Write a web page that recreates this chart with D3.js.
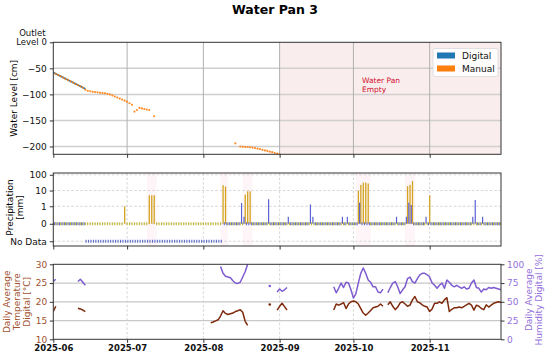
<!DOCTYPE html>
<html><head><meta charset="utf-8">
<script src="https://cdn.jsdelivr.net/npm/d3@7"></script>
<style>body{margin:0;background:#fff} svg{display:block;font-family:"DejaVu Sans",sans-serif}</style>
</head><body><svg id="c" width="550" height="357"></svg>
<script>
// ---------------- data ----------------
const chartTitle = "Water Pan 3";
const dateRange = ["2025-06-01", "2025-11-30"];
const monthTicks = ["2025-06-01","2025-07-01","2025-08-01","2025-09-01","2025-10-01","2025-11-01"];
const emptyPeriod = ["2025-09-01", "2025-11-30"];
const emptyLabel = ["Water Pan", "Empty"];
const seriesNames = ["Digital", "Manual"];

const levelTicks = [0, -50, -100, -150, -200];
const levelDomain = [-215, 0];
const levelDigital = [
  ["2025-06-01", [-58,-60.5,-62.8,-65.3,-67.5,-70.1,-72.4,-74.9,-77.2,-79.6,-82.1,-84.4,-86.9,-89]]
];
const levelManual = [
  ["2025-06-01", [-58,-60.6,-63,-65.4,-67.8,-70.3,-72.6,-75,-77.4,-79.8,-82.2,-84.6,-87,-91,-93,-94,-95,-95.5,-96,-97,
                  -97.5,-98,-99,-100,-102,-104,-106,-108,-110,-112,-114,-117,-120,-133,-130,-126,-127,-128,-129,-130]],
  ["2025-07-12", [-142]],
  ["2025-08-14", [-194]],
  ["2025-08-16", [-200,-200.5,-201,-201,-201.5,-202,-203,-204,-205,-206.5,-207.5,-208.5,-210,-211,-212.5,-213.5,-215]]
];

const precipTicks = [100, 10, 1, 0, -1];
const precipTickLabels = ["100", "10", "1", "0", "No Data"];
const precipDomain = [-2, 130];
const precipManual = [
  ["2025-06-30", 1.0],
  ["2025-07-10", 5], ["2025-07-11", 5], ["2025-07-12", 5],
  ["2025-08-09", 22], ["2025-08-10", 18],
  ["2025-08-18", 5.5], ["2025-08-19", 9], ["2025-08-20", 9],
  ["2025-10-03", 10], ["2025-10-04", 23], ["2025-10-05", 32], ["2025-10-06", 32], ["2025-10-07", 28],
  ["2025-10-23", 19], ["2025-10-24", 23], ["2025-10-25", 40],
  ["2025-11-01", 5]
];
const precipDigital = [
  ["2025-08-16", 1.6], ["2025-08-17", 0.4], ["2025-08-27", 2.8], ["2025-09-04", 0.4],
  ["2025-09-13", 1.3], ["2025-09-14", 0.4], ["2025-09-26", 0.4], ["2025-09-28", 0.4],
  ["2025-10-03", 1.7], ["2025-10-18", 0.4], ["2025-10-22", 0.4], ["2025-10-23", 1.7],
  ["2025-10-24", 1.2], ["2025-10-30", 0.4], ["2025-11-18", 0.4], ["2025-11-19", 2.5], ["2025-11-22", 0.4]
];
const manualCoverage = [["2025-06-01", "2025-11-30"]];
const digitalCoverage = [["2025-06-01", "2025-06-13"], ["2025-08-09", "2025-11-30"]];
const rainSpans = [["2025-07-09","2025-07-13"],["2025-08-08","2025-08-11"],["2025-08-17","2025-08-21"],
                   ["2025-10-02","2025-10-08"],["2025-10-22","2025-10-26"]];

const tempTicks = [10, 15, 20, 25, 30];
const humTicks = [0, 25, 50, 75, 100];
const tempSegments = [
  ["2025-06-01", [17.4, 18.8]],
  ["2025-06-11", [18.3, 18.1, 17.8, 17.4]],
  ["2025-08-04", [14.4,14.6,14.9,15.2,16.2,17.6,16.9,16.6,16.8,17.0,17.4,17.6,17.9,17.2,14.8,13.7]],
  ["2025-08-28", [19.3]],
  ["2025-08-31", [17.8, 18.8, 19.6, 18.7, 17.8]],
  ["2025-09-23", [17.8,19.4,19.1,19.4,19.8,18.2,19.4,20.0,20.2,20.0,19.4,18.2,17.0,16.4,17.0,17.7,18.4,18.6,18.8,19.4,18.8]],
  ["2025-10-15", [19.2,20.0,18.8,17.9,18.6,19.7,20.0,19.4,18.8,19.1,20.5,21.4,20.0,19.7,19.2,18.8,18.6,17.4,18.1,19.6,
                  19.6,20.0,19.6,20.5,21.1,17.4,18.0,18.4,18.4,18.6,18.4,18.8,19.2,19.6,19.1,17.8,19.1,18.8,18.2,17.9,
                  19.2,18.6,19.1,19.6,19.8,20.0,19.8]]
];
const humSegments = [
  ["2025-06-01", [77, 80]],
  ["2025-06-11", [77, 80, 76, 72]],
  ["2025-08-08", [97,88,84,83,82,78,75,74.5,76,83,90,100]],
  ["2025-08-28", [71]],
  ["2025-08-31", [63, 67, 64, 66, 69]],
  ["2025-09-23", [70,62,68,75,69,76,75,66,55,61,75,88,95,88,79,76,70,70,63,62,67]],
  ["2025-10-15", [62,69,75,77,70,61,66,70,81,83,77,75,81,86,88,88,86,83,75,72,68,72,75,68,79,76,72,70,72,70,
                  68,70,67,68,75,79,69,68,63,67,66,69,68,69,68,67,66]]
];

// ---------------- drawing ----------------
const P = d3.utcParse("%Y-%m-%d");
const svg = d3.select("#c");
const L = 53.3, R = 501;
const p1 = {t: 42.3, b: 154.3}, p2 = {t: 173, b: 246}, p3 = {t: 264.3, b: 339.3};
const C = {digital: "#1f77b4", manual: "#ff7f0e", dBar: "#5b62d2", mBar: "#d3a41f",
           temp: "#7d2a0c", tempTxt: "#a0522d", hum: "#7e5cd0", humTxt: "#9370db"};

const x = d3.scaleUtc().domain(dateRange.map(P)).range([L, R]);
const expand = segs => segs.map(([s, vals]) => vals.map((v, i) => ({d: d3.utcDay.offset(P(s), i), v})));
const dayList = cov => cov.flatMap(([a, b]) => d3.utcDay.range(P(a), d3.utcDay.offset(P(b), 1)));

svg.append("text").attr("x", 275).attr("y", 14).attr("text-anchor", "middle")
  .attr("font-weight", "bold").attr("font-size", 12.5).text(chartTitle);

const defs = svg.append("defs");
[["c1", p1], ["c2", p2], ["c3", p3]].forEach(([id, p]) => {
  defs.append("clipPath").attr("id", id).append("rect")
    .attr("x", L).attr("y", p.t - 1).attr("width", R - L).attr("height", p.b - p.t + 2);
});

function xAxis(p, labels) {
  const g = svg.append("g").attr("transform", `translate(0,${p.b})`)
    .call(d3.axisBottom(x).tickValues(monthTicks.map(P)).tickSize(3.5).tickPadding(2.5)
      .tickFormat(labels ? d3.utcFormat("%Y-%m") : ""));
  g.select(".domain").remove();
  g.selectAll("line").attr("stroke", "#333");
  g.selectAll("text").attr("font-size", 8.5).attr("font-weight", "bold").attr("fill", "#111").attr("font-family", "DejaVu Sans");
}
function frame(p) {
  svg.append("rect").attr("x", L).attr("y", p.t).attr("width", R - L).attr("height", p.b - p.t)
    .attr("fill", "none").attr("stroke", "#333").attr("stroke-width", 1);
}

// ---- Panel 1: water level ----
const yL = d3.scaleLinear().domain(levelDomain).range([p1.b, p1.t]);
svg.append("rect").attr("x", x(P(emptyPeriod[0]))).attr("y", p1.t)
  .attr("width", x(P(emptyPeriod[1])) - x(P(emptyPeriod[0]))).attr("height", p1.b - p1.t).attr("fill", "#faeded");
svg.append("g").selectAll("line").data(levelTicks.slice(1)).join("line")
  .attr("x1", L).attr("x2", R).attr("y1", d => yL(d)).attr("y2", d => yL(d))
  .attr("stroke", "#cfcfcf").attr("stroke-width", 1.5);
svg.append("g").selectAll("line").data(monthTicks.slice(1)).join("line")
  .attr("x1", d => x(P(d))).attr("x2", d => x(P(d))).attr("y1", p1.t).attr("y2", p1.b)
  .attr("stroke", "#b0b0b0").attr("stroke-width", 1);
const g1 = svg.append("g").attr("clip-path", "url(#c1)");
expand(levelDigital).forEach(seg => {
  g1.append("path").datum(seg).attr("fill", "none").attr("stroke", C.digital).attr("stroke-width", 1.6)
    .attr("d", d3.line().x(d => x(d.d)).y(d => yL(d.v)));
});
expand(levelManual).flat().forEach(d => {
  g1.append("circle").attr("cx", x(d.d)).attr("cy", yL(d.v)).attr("r", 1.1).attr("fill", C.manual).attr("opacity", 0.9);
});
svg.append("text").attr("x", 362).attr("y", 83).attr("font-size", 7.5).attr("fill", "#d01030")
  .selectAll("tspan").data(emptyLabel).join("tspan").attr("x", 362).attr("dy", (d, i) => i ? 9 : 0).text(d => d);
frame(p1);
{
  const g = svg.append("g").attr("transform", `translate(${L},0)`)
    .call(d3.axisLeft(yL).tickValues(levelTicks).tickSize(3.5).tickPadding(3).tickFormat(d => d === 0 ? "" : d3.format("")(d)));
  g.select(".domain").remove();
  g.selectAll("line").attr("stroke", "#333");
  g.selectAll("text").attr("font-size", 9).attr("fill", "#111").attr("font-family", "DejaVu Sans");
  const t = svg.append("text").attr("font-size", 8.5).attr("text-anchor", "end").attr("fill", "#111");
  t.append("tspan").attr("x", 45.5).attr("y", yL(0) - 6.5).text("Outlet");
  t.append("tspan").attr("x", 46.8).attr("y", yL(0) + 3).text("Level 0");
}
xAxis(p1, false);
svg.append("text").attr("transform", `translate(17,${(p1.t + p1.b) / 2}) rotate(-90)`).attr("text-anchor", "middle")
  .attr("font-size", 9).text("Water Level [cm]");
// legend
{
  const lg = svg.append("g");
  lg.append("rect").attr("x", 433).attr("y", 48.5).attr("width", 65).attr("height", 28).attr("rx", 2)
    .attr("fill", "#fff").attr("fill-opacity", 0.85).attr("stroke", "#d8d8d8").attr("stroke-width", 0.8);
  [C.digital, C.manual].forEach((c, i) => {
    lg.append("rect").attr("x", 437).attr("y", 52.5 + i * 13).attr("width", 18).attr("height", 6).attr("fill", c);
    lg.append("text").attr("x", 462).attr("y", 59 + i * 13).attr("font-size", 9).attr("fill", "#111").text(seriesNames[i]);
  });
}

// ---- Panel 2: precipitation ----
const K = 1 / (1 - 1 / 10);
const sl = v => Math.abs(v) <= 1 ? v * K : Math.sign(v) * (K + Math.log10(Math.abs(v)));
const yPs = d3.scaleLinear().domain(precipDomain.map(sl)).range([p2.b, p2.t]);
const yP = v => yPs(sl(v));
rainSpans.forEach(([a, b]) => {
  svg.append("rect").attr("x", x(P(a))).attr("y", p2.t).attr("width", x(P(b)) - x(P(a))).attr("height", p2.b - p2.t)
    .attr("fill", "#fdeef5").attr("opacity", 0.6);
});
svg.append("g").selectAll("line").data(precipTicks).join("line")
  .attr("x1", L).attr("x2", R).attr("y1", d => yP(d)).attr("y2", d => yP(d))
  .attr("stroke", "#cccccc").attr("stroke-width", 0.8).attr("stroke-dasharray", "2.5,2");
svg.append("g").selectAll("line").data(monthTicks.slice(1)).join("line")
  .attr("x1", d => x(P(d))).attr("x2", d => x(P(d))).attr("y1", p2.t).attr("y2", p2.b)
  .attr("stroke", "#cccccc").attr("stroke-width", 0.8).attr("stroke-dasharray", "2.5,2");
const g2 = svg.append("g").attr("clip-path", "url(#c2)");
const manualMap = new Map(precipManual.map(([d, v]) => [d, v]));
const digitalMap = new Map(precipDigital.map(([d, v]) => [d, v]));
const fmt = d3.utcFormat("%Y-%m-%d");
const y0 = yP(0);
dayList(manualCoverage).forEach(d => {
  const v = manualMap.get(fmt(d)) || 0;
  const xx = x(d) - 0.6;
  if (v > 0) g2.append("rect").attr("x", xx).attr("y", yP(v)).attr("width", 1.3).attr("height", y0 - yP(v)).attr("fill", C.mBar);
  else g2.append("rect").attr("x", xx).attr("y", y0 - 1.5).attr("width", 1.1).attr("height", 3).attr("fill", "#c4b838");
});
dayList(digitalCoverage).forEach(d => {
  const v = digitalMap.get(fmt(d)) || 0;
  const xx = x(d) + 0.7;
  if (v > 0) g2.append("rect").attr("x", xx).attr("y", yP(v)).attr("width", 1.2).attr("height", y0 - yP(v)).attr("fill", C.dBar);
  else g2.append("rect").attr("x", xx).attr("y", y0 - 1.5).attr("width", 1.1).attr("height", 3).attr("fill", "#5a6cc8");
});
{
  const cov = new Set(dayList(digitalCoverage).map(fmt));
  d3.utcDay.range(P(dateRange[0]), d3.utcDay.offset(P(dateRange[1]), 1)).filter(d => !cov.has(fmt(d))).forEach(d => {
    g2.append("rect").attr("x", x(d) + 0.2).attr("y", yP(-1) - 1.5).attr("width", 1.1).attr("height", 3).attr("fill", "#5a6cc8");
  });
}
frame(p2);
{
  const g = svg.append("g").attr("transform", `translate(${L},0)`)
    .call(d3.axisLeft(yPs).tickValues(precipTicks.map(sl)).tickSize(3.5).tickPadding(3)
      .tickFormat((d, i) => precipTickLabels[i]));
  g.select(".domain").remove();
  g.selectAll("line").attr("stroke", "#333");
  g.selectAll("text").attr("font-size", 9).attr("fill", "#111").attr("font-family", "DejaVu Sans");
}
xAxis(p2, false);
svg.append("text").attr("transform", `translate(13,${(p2.t + p2.b) / 2 - 2}) rotate(-90)`).attr("text-anchor", "middle")
  .attr("font-size", 9).selectAll("tspan").data(["Precipitation", "[mm]"]).join("tspan")
  .attr("x", 0).attr("dy", (d, i) => i ? 10 : 0).text(d => d);

// ---- Panel 3: temperature & humidity ----
const yT = d3.scaleLinear().domain([10, 30]).range([p3.b, p3.t]);
const yH = d3.scaleLinear().domain([0, 100]).range([p3.b, p3.t]);
svg.append("g").selectAll("line").data(tempTicks.slice(1, -1)).join("line")
  .attr("x1", L).attr("x2", R).attr("y1", d => yT(d)).attr("y2", d => yT(d))
  .attr("stroke", "#c8c8c8").attr("stroke-width", 1.2);
svg.append("g").selectAll("line").data(monthTicks.slice(1)).join("line")
  .attr("x1", d => x(P(d))).attr("x2", d => x(P(d))).attr("y1", p3.t).attr("y2", p3.b)
  .attr("stroke", "#cccccc").attr("stroke-width", 0.8).attr("stroke-dasharray", "2.5,2");
const g3 = svg.append("g").attr("clip-path", "url(#c3)");
function drawSeries(segs, y, color) {
  expand(segs).forEach(seg => {
    if (seg.length === 1) {
      g3.append("circle").attr("cx", x(seg[0].d)).attr("cy", y(seg[0].v)).attr("r", 1.3).attr("fill", color);
    } else {
      g3.append("path").datum(seg).attr("fill", "none").attr("stroke", color).attr("stroke-width", 1.5)
        .attr("stroke-linejoin", "round").attr("d", d3.line().x(d => x(d.d)).y(d => y(d.v)));
    }
  });
}
drawSeries(humSegments, yH, C.hum);
drawSeries(tempSegments, yT, C.temp);
frame(p3);
{
  const g = svg.append("g").attr("transform", `translate(${L},0)`)
    .call(d3.axisLeft(yT).tickValues(tempTicks).tickSize(3.5).tickPadding(2.5));
  g.select(".domain").remove();
  g.selectAll("line").attr("stroke", "#333");
  g.selectAll("text").attr("font-size", 9).attr("fill", C.tempTxt).attr("font-family", "DejaVu Sans");
  const h = svg.append("g").attr("transform", `translate(${R},0)`)
    .call(d3.axisRight(yH).tickValues(humTicks).tickSize(3.5).tickPadding(2.5));
  h.select(".domain").remove();
  h.selectAll("line").attr("stroke", "#333");
  h.selectAll("text").attr("font-size", 9).attr("fill", C.humTxt).attr("font-family", "DejaVu Sans");
}
xAxis(p3, true);
svg.append("text").attr("transform", `translate(10,${(p3.t + p3.b) / 2}) rotate(-90)`).attr("text-anchor", "middle")
  .attr("font-size", 9).attr("fill", C.tempTxt)
  .selectAll("tspan").data(["Daily Average", "Temperature", "Digital [°C]"]).join("tspan")
  .attr("x", 0).attr("dy", (d, i) => i ? 10 : 0).text(d => d);
svg.append("text").attr("transform", `translate(532,${(p3.t + p3.b) / 2 - 2}) rotate(-90)`).attr("text-anchor", "middle")
  .attr("font-size", 9).attr("fill", C.humTxt)
  .selectAll("tspan").data(["Daily Average", "Humidity Digital [%]"]).join("tspan")
  .attr("x", 0).attr("dy", (d, i) => i ? 10 : 0).text(d => d);
</script></body></html>
